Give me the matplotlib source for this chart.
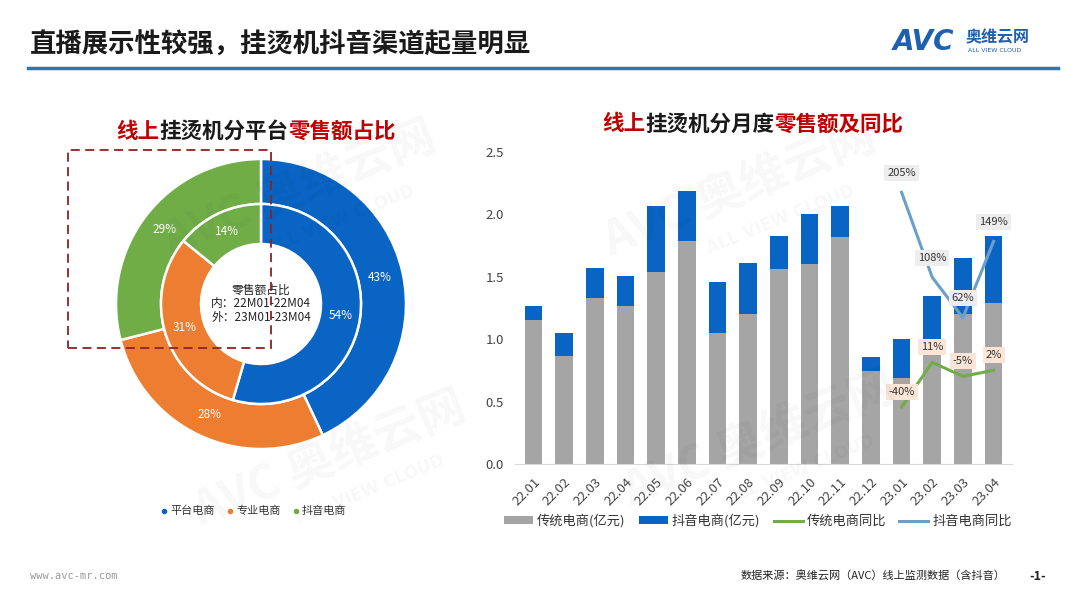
import matplotlib
matplotlib.use('Agg')
import matplotlib.pyplot as plt
from matplotlib.patches import Rectangle
from matplotlib.lines import Line2D
import numpy as np

plt.rcParams['font.family'] = ['Noto Sans CJK SC', 'DejaVu Sans']

# Donut data (outer: 23M01-23M04, inner: 22M01-22M04)
platforms = ['平台电商', '专业电商', '抖音电商']
outer_share = [43, 28, 29]
inner_share = [54, 31, 14]

# Monthly data (亿元)
months = ['22.01', '22.02', '22.03', '22.04', '22.05', '22.06', '22.07', '22.08',
          '22.09', '22.10', '22.11', '22.12', '23.01', '23.02', '23.03', '23.04']
traditional = [1.15, 0.865, 1.33, 1.27, 1.54, 1.79, 1.05, 1.20,
               1.56, 1.60, 1.82, 0.745, 0.69, 0.99, 1.20, 1.29]
douyin = [0.12, 0.185, 0.24, 0.24, 0.53, 0.40, 0.41, 0.41,
          0.27, 0.40, 0.25, 0.115, 0.31, 0.36, 0.45, 0.54]
# YoY, only 23.01 - 23.04
yoy_months = ['23.01', '23.02', '23.03', '23.04']
trad_yoy = [-0.40, 0.11, -0.05, 0.02]
douyin_yoy = [2.05, 1.08, 0.62, 1.49]

c_blue = '#0A64C4'
c_orange = '#ED7D31'
c_green = '#70AD47'
c_grey = '#A5A5A5'
c_lblue = '#6A9FCC'
c_red = '#C00000'

fig = plt.figure(figsize=(10.8, 6.08), dpi=100)
W, H = 1080, 608

def fx(px):
    return px / W

def fy(py):
    return 1 - py / H

# Header
fig.text(fx(30), fy(45), '直播展示性较强，挂烫机抖音渠道起量明显', fontsize=19,
         fontweight='bold', color='#1a1a1a', va='center', ha='left')
fig.add_artist(Line2D([fx(28), fx(1058)], [fy(68), fy(68)], color='#2E75B6', lw=2.5))
fig.text(fx(893), fy(42), 'AVC', fontsize=20, fontweight='bold', style='italic',
         color='#1F5FAF', va='center', ha='left', family='DejaVu Sans')
fig.text(fx(966), fy(37), '奥维云网', fontsize=11.5, fontweight='bold',
         color='#1F5FAF', va='center', ha='left')
fig.text(fx(968), fy(50), 'ALL VIEW CLOUD', fontsize=4.5, color='#1F5FAF',
         va='center', ha='left', family='DejaVu Sans')

# Watermarks
for (wx, wy) in [(300, 190), (740, 190), (330, 460), (760, 440)]:
    fig.text(fx(wx), fy(wy), 'AVC 奥维云网', fontsize=34, fontweight='bold',
             color='#000000', alpha=0.03, rotation=22, ha='center', va='center')
    fig.text(fx(wx + 40), fy(wy + 30), 'ALL VIEW CLOUD', fontsize=12, fontweight='bold',
             color='#000000', alpha=0.03, rotation=22, ha='center', va='center',
             family='DejaVu Sans')

# Two-colour subtitles
def rich_title(x_center, y, parts, size=15.5):
    renderer = fig.canvas.get_renderer()
    texts = []
    for s, c in parts:
        t = fig.text(0, fy(y), s, fontsize=size, fontweight='bold', color=c,
                     va='center', ha='left')
        texts.append(t)
    widths = [t.get_window_extent(renderer).width for t in texts]
    x = x_center - sum(widths) / 2
    for t, w in zip(texts, widths):
        t.set_x(fx(x))
        x += w

rich_title(256, 131, [('线上', c_red), ('挂烫机分平台', '#1a1a1a'), ('零售额占比', c_red)])
rich_title(753, 124, [('线上', c_red), ('挂烫机分月度', '#1a1a1a'), ('零售额及同比', c_red)])

# ---- Donut chart ----
cx, cy, half = 261, 304, 152
ax1 = fig.add_axes([fx(cx - half), fy(cy + half), 2 * half / W, 2 * half / H])
colors = [c_blue, c_orange, c_green]
ax1.pie(outer_share, radius=145, colors=colors, startangle=90, counterclock=False,
        wedgeprops=dict(width=45, edgecolor='white', linewidth=1.8))
ax1.pie(inner_share, radius=100, colors=colors, startangle=90, counterclock=False,
        wedgeprops=dict(width=40, edgecolor='white', linewidth=1.8))
ax1.set_xlim(-half, half)
ax1.set_ylim(-half, half)
ax1.set_aspect('equal')
ax1.axis('off')

def pct_labels(shares, r, total):
    start = 90
    for v in shares:
        ang = np.deg2rad(start - 360 * v / total / 2)
        ax1.text(r * np.cos(ang), r * np.sin(ang), f'{v}%', color='white',
                 fontsize=8.5, ha='center', va='center')
        start -= 360 * v / total

pct_labels(outer_share, 122, sum(outer_share))
pct_labels(inner_share, 80, sum(inner_share))
ax1.text(0, 14, '零售额占比', fontsize=8.5, ha='center', va='center', color='#222222')
ax1.text(0, 0, '内：22M01-22M04', fontsize=8.5, ha='center', va='center', color='#222222')
ax1.text(0, -14, '外：23M01-23M04', fontsize=8.5, ha='center', va='center', color='#222222')

fig.add_artist(Rectangle((fx(68), fy(348)), fx(271) - fx(68), fy(150) - fy(348),
                         fill=False, edgecolor='#8B2323', lw=1.3, ls=(0, (5, 3))))

# donut legend
lx = 164
for name, c in zip(platforms, colors):
    fig.add_artist(Line2D([fx(lx)], [fy(511)], marker='o', ms=3, color=c, lw=0))
    fig.text(fx(lx + 6), fy(511), name, color='#333333', fontsize=8, va='center', ha='left')
    lx += 66

# ---- Bar chart ----
ax2 = fig.add_axes([fx(515), fy(464), fx(1012) - fx(515), fy(152) - fy(464)])
x = np.arange(len(months))
ax2.bar(x, traditional, width=0.58, color=c_grey, label='传统电商(亿元)')
ax2.bar(x, douyin, width=0.58, bottom=traditional, color=c_blue, label='抖音电商(亿元)')
ax2.set_ylim(0, 2.5)
ax2.set_xlim(-0.6, len(months) - 0.4)
ax2.set_yticks([0, 0.5, 1.0, 1.5, 2.0, 2.5])
ax2.set_yticklabels(['0.0', '0.5', '1.0', '1.5', '2.0', '2.5'], fontsize=9.5, color='#444444')
ax2.set_xticks(x)
ax2.set_xticklabels(months, rotation=45, ha='right', rotation_mode='anchor',
                    fontsize=9.5, color='#444444')
ax2.tick_params(length=0, pad=8)
for s in ['top', 'right', 'left']:
    ax2.spines[s].set_visible(False)
ax2.spines['bottom'].set_color('#D9D9D9')

ax3 = ax2.twinx()
xi = [months.index(m) for m in yoy_months]
ax3.plot(xi, trad_yoy, color=c_green, lw=2.2, label='传统电商同比')
ax3.plot(xi, douyin_yoy, color=c_lblue, lw=2.2, label='抖音电商同比')
ax3.set_ylim(-1.05, 2.51)
ax3.axis('off')

for xv, v in zip(xi, douyin_yoy):
    ax3.annotate(f'{v*100:.0f}%', (xv, v), xytext=(0, 14), textcoords='offset points',
                 ha='center', va='center', fontsize=8, color='#333333',
                 bbox=dict(boxstyle='square,pad=0.25', fc='#EDEDED', ec='none'))
for xv, v in zip(xi, trad_yoy):
    ax3.annotate(f'{v*100:.0f}%', (xv, v), xytext=(0, 11), textcoords='offset points',
                 ha='center', va='center', fontsize=8, color='#333333',
                 bbox=dict(boxstyle='square,pad=0.25', fc='#FBE5D6', ec='none'))

h1, l1 = ax2.get_legend_handles_labels()
h2, l2 = ax3.get_legend_handles_labels()
fig.legend(h1 + h2, l1 + l2, loc='center', bbox_to_anchor=(fx(758), fy(521)), ncol=4,
           frameon=False, fontsize=9.5, handlelength=2.2, handleheight=0.6,
           columnspacing=1.0, handletextpad=0.3, labelcolor='#333333')

# Footer
fig.text(fx(30), fy(576), 'www.avc-mr.com', fontsize=7.5, color='#999999',
         va='center', ha='left', family='DejaVu Sans Mono')
fig.text(fx(1005), fy(576), '数据来源：奥维云网（AVC）线上监测数据（含抖音）', fontsize=8,
         color='#222222', va='center', ha='right')
fig.text(fx(1038), fy(576), '-1-', fontsize=9, fontweight='bold', color='#222222',
         va='center', ha='center')

fig.savefig('out.png', dpi=100)
